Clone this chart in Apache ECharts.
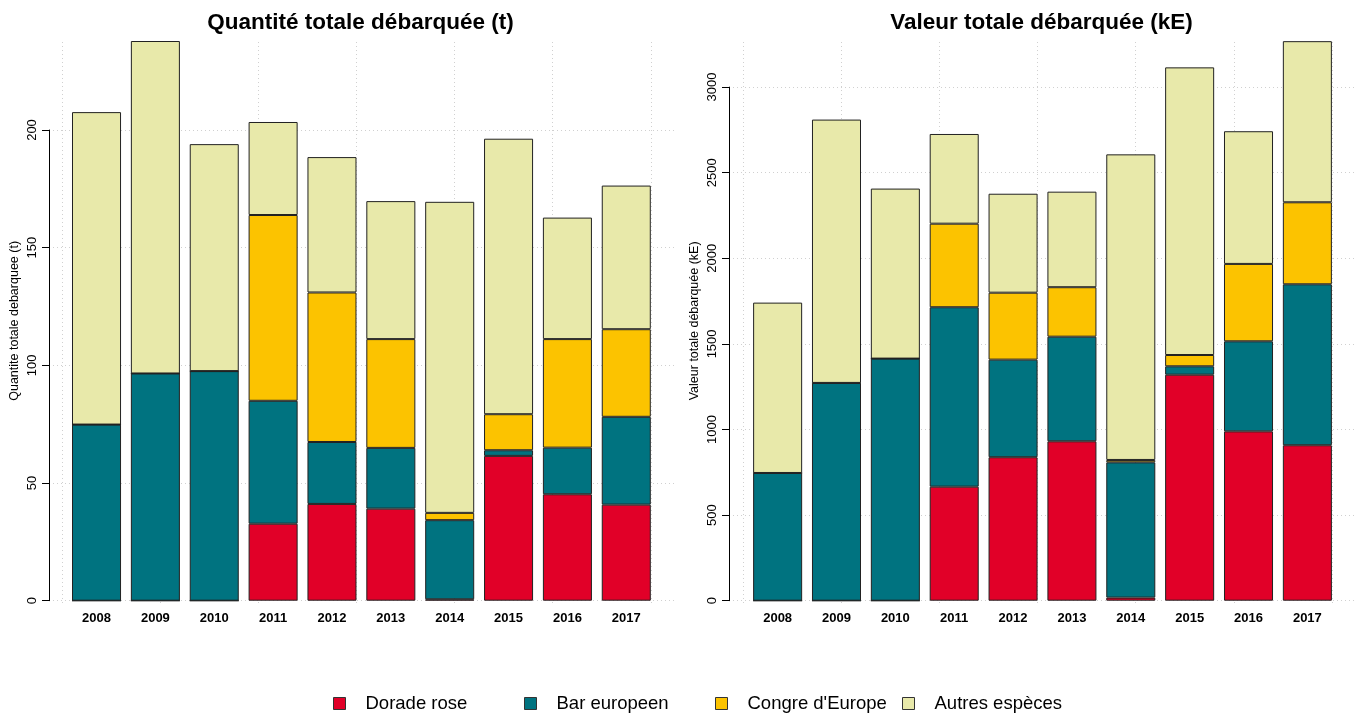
<!DOCTYPE html>
<html>
<head>
<meta charset="utf-8">
<script src="https://cdn.jsdelivr.net/npm/echarts@6/dist/echarts.min.js"></script>
<style>
  html, body { margin: 0; padding: 0; background: #fff; }
  #main { width: 1358px; height: 715px; }
</style>
</head>
<body>
<div id="main"></div>
<script>
// landing data
var years = ['2008', '2009', '2010', '2011', '2012', '2013', '2014', '2015', '2016', '2017'];
var speciesNames = ['Dorade rose', 'Bar europeen', "Congre d'Europe", 'Autres espèces'];

// quantity (t)
var qDorade = [0, 0, 0, 32.7, 41.1, 39.1, 0.6, 61.5, 45.2, 40.8];
var qBar = [74.8, 96.5, 97.5, 52.2, 26.3, 25.8, 33.6, 2.4, 19.8, 37.3];
var qCongre = [0, 0, 0, 78.9, 63.5, 46.2, 3.1, 15.3, 46.1, 37.2];
var qAutres = [132.7, 141.2, 96.4, 39.5, 57.5, 58.6, 132.1, 117.0, 51.6, 61.0];

// value (kE)
var vDorade = [0, 0, 0, 666, 838, 931, 18, 1320, 989, 908];
var vBar = [746, 1272, 1414, 1048, 570, 611, 790, 49, 526, 940];
var vCongre = [0, 0, 0, 488, 391, 289, 14, 66, 452, 479];
var vAutres = [995, 1538, 993, 524, 578, 558, 1785, 1680, 775, 941];

// axis ticks
var qTicks = { max: 200, interval: 50, top: 237.7 };
var vTicks = { max: 3000, interval: 500, top: 3269 };

var colors = ['#E10028', '#007380', '#FCC300', '#E8E9AA'];
var font = "'Liberation Sans', Arial, sans-serif";

var chart = echarts.init(document.getElementById('main'));

function barSeries(idx, values, name, color, stack) {
    return {
        type: 'bar',
        name: name,
        stack: stack,
        xAxisIndex: idx,
        yAxisIndex: idx,
        data: values,
        barCategoryGap: '16.7%',
        itemStyle: { color: color, borderColor: '#222', borderWidth: 1 },
        emphasis: { disabled: true }
    };
}

// grid 0/3: R axis with ticks + horizontal grid, 1/4: bars, 2/5: vertical grid
var grids = [
    { left: 49, top: 130, width: 625, height: 470.7 },
    { left: 67.1, top: 41, width: 588.6, height: 559.7 },
    { left: 62.2, top: 42, width: 588.6, height: 563 },
    { left: 729, top: 87.1, width: 626, height: 513.6 },
    { left: 748.2, top: 41, width: 588.6, height: 559.7 },
    { left: 743.3, top: 42, width: 588.6, height: 563 }
];

var dotted = { show: true, lineStyle: { color: '#d0d0d0', type: [1, 3], width: 1 } };

function tickYAxis(gi, t) {
    return {
        type: 'value', gridIndex: gi, min: 0, max: t.max, interval: t.interval,
        axisLine: { show: true, lineStyle: { color: '#000', width: 1 } },
        axisTick: { show: true, inside: false, length: 7, lineStyle: { color: '#000' } },
        axisLabel: {
            rotate: 90, margin: 10, color: '#000', fontSize: 13, fontFamily: font,
            formatter: function(v) { return String(v); }
        },
        splitLine: dotted
    };
}

function barYAxis(gi, top, name, gap) {
    return {
        type: 'value', gridIndex: gi, min: 0, max: top,
        name: name, nameLocation: 'middle', nameGap: gap, nameRotate: 90,
        nameTextStyle: { fontSize: 12.5, fontFamily: font, color: '#000' },
        axisLine: { show: false }, axisTick: { show: false },
        axisLabel: { show: false }, splitLine: { show: false }
    };
}

var hiddenX = { type: 'value', min: 0, max: 1, show: false };

var yAxes = [
    tickYAxis(0, qTicks),
    barYAxis(1, qTicks.top, 'Quantite totale debarquee (t)', 45.6),
    { type: 'value', gridIndex: 2, min: 0, max: 1, show: false },
    tickYAxis(3, vTicks),
    barYAxis(4, vTicks.top, 'Valeur totale débarquée (kE)', 46.7),
    { type: 'value', gridIndex: 5, min: 0, max: 1, show: false }
];

function catXAxis(gi) {
    return {
        type: 'category', gridIndex: gi, data: years,
        axisLine: { show: false }, axisTick: { show: false },
        axisLabel: { margin: 11, color: '#000', fontSize: 13, fontWeight: 'bold', fontFamily: font }
    };
}

function vGridXAxis(gi) {
    return {
        type: 'value', gridIndex: gi, min: 0, max: 12, interval: 2,
        axisLine: { show: false }, axisTick: { show: false }, axisLabel: { show: false },
        splitLine: dotted
    };
}

var xAxes = [
    Object.assign({ gridIndex: 0 }, hiddenX),
    catXAxis(1),
    vGridXAxis(2),
    Object.assign({ gridIndex: 3 }, hiddenX),
    catXAxis(4),
    vGridXAxis(5)
];

var qSets = [qDorade, qBar, qCongre, qAutres];
var vSets = [vDorade, vBar, vCongre, vAutres];
var series = [];
for (var i = 0; i < 4; i++) {
    series.push(barSeries(1, qSets[i], speciesNames[i], colors[i], 'q'));
}
for (var j = 0; j < 4; j++) {
    series.push(barSeries(4, vSets[j], speciesNames[j], colors[j], 'v'));
}

// legend items placed like the R legend
var legendLeft = [333, 524, 715, 902];
var legends = speciesNames.map(function(n, k) {
    return {
        data: [n], left: legendLeft[k], top: 694, padding: 0,
        icon: 'rect', itemWidth: 12, itemHeight: 12,
        itemStyle: { borderColor: '#333', borderWidth: 1 },
        textStyle: { fontSize: 18.5, fontFamily: font, color: '#000', padding: [0, 0, 0, 15] },
        selectedMode: false
    };
});

chart.setOption({
    animation: false,
    textStyle: { fontFamily: font },
    title: [
        { text: 'Quantité totale débarquée (t)', left: 360.5, top: 11, textAlign: 'center', padding: 0,
          textStyle: { fontSize: 22.5, fontWeight: 'bold', fontFamily: font, color: '#000' } },
        { text: 'Valeur totale débarquée (kE)', left: 1041.5, top: 11, textAlign: 'center', padding: 0,
          textStyle: { fontSize: 22.5, fontWeight: 'bold', fontFamily: font, color: '#000' } }
    ],
    legend: legends,
    grid: grids,
    xAxis: xAxes,
    yAxis: yAxes,
    series: series
});
</script>
</body>
</html>
